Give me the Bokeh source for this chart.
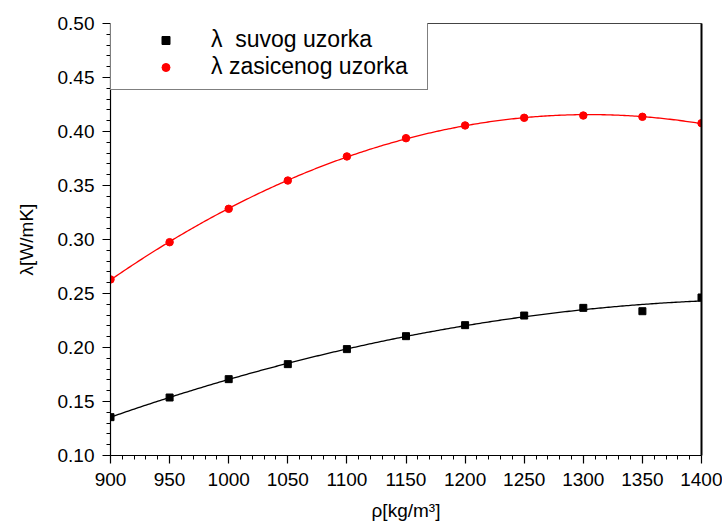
import numpy as np
from bokeh.plotting import figure
from bokeh.models import (Range1d, FixedTicker, NumeralTickFormatter, Legend,
                          LegendItem, LinearAxis)
from bokeh.embed import file_html
from bokeh.resources import INLINE

# ---- data ----
density = [900, 950, 1000, 1050, 1100, 1150, 1200, 1250, 1300, 1350, 1400]
lambda_dry = [0.1355, 0.1537, 0.1707, 0.1846, 0.1985, 0.2105, 0.2207,
              0.2296, 0.2367, 0.2336, 0.2463]
lambda_sat = [0.2630, 0.2975, 0.3284, 0.3546, 0.3769, 0.3938, 0.4056,
              0.4127, 0.4148, 0.4136, 0.4077]
x_ticks = [900, 950, 1000, 1050, 1100, 1150, 1200, 1250, 1300, 1350, 1400]
y_ticks = [0.10, 0.15, 0.20, 0.25, 0.30, 0.35, 0.40, 0.45, 0.50]
label_dry = "λ  suvog uzorka"
label_sat = "λ zasicenog uzorka"
x_title = "ρ[kg/m³]"
y_title = "λ[W/mK]"

FONT = "Liberation Sans"

p = figure(width=722, height=524, output_backend="svg", toolbar_location=None,
           x_range=Range1d(900, 1400), y_range=Range1d(0.10, 0.50),
           min_border_left=110, min_border_right=21, min_border_top=23,
           min_border_bottom=69, background_fill_color="white",
           border_fill_color="white")
p.xgrid.visible = False
p.ygrid.visible = False
p.outline_line_color = "#444444"
p.outline_line_width = 1

# polynomial (2nd order) fits of the read data, as in the original
xs = np.linspace(min(density), max(density), 300)
fit_dry = np.polyval(np.polyfit(density, lambda_dry, 2), xs)
fit_sat = np.polyval(np.polyfit(density, lambda_sat, 2), xs)

p.line(xs, fit_dry, line_color="black", line_width=1.3)
p.line(xs, fit_sat, line_color="#ff0000", line_width=1.3)
r_dry = p.scatter(density, lambda_dry, marker="square", size=7,
                  fill_color="black", line_color="black")
r_sat = p.scatter(density, lambda_sat, marker="circle", size=7.5,
                  fill_color="#ff0000", line_color="#ff0000")

minor_x = [v for v in range(900, 1401, 10) if v % 50 != 0]
minor_y = [round(0.10 + 0.01 * i, 2) for i in range(41)]
p.xaxis.ticker = FixedTicker(ticks=x_ticks, minor_ticks=minor_x)
p.yaxis.ticker = FixedTicker(ticks=y_ticks, minor_ticks=minor_y)
p.yaxis.formatter = NumeralTickFormatter(format="0.00")

for ax in (p.xaxis, p.yaxis):
    ax.axis_line_color = "black"
    ax.axis_line_width = 1.2
    ax.major_tick_line_color = "black"
    ax.minor_tick_line_color = "black"
    ax.major_tick_line_width = 1.2
    ax.minor_tick_line_width = 1
    ax.major_tick_in = 0
    ax.major_tick_out = 8
    ax.minor_tick_in = 0
    ax.minor_tick_out = 4
    ax.major_label_text_font = FONT
    ax.major_label_text_font_size = "19px"
    ax.major_label_text_color = "black"
    ax.axis_label_text_font = FONT
    ax.axis_label_text_font_size = "19px"
    ax.axis_label_text_font_style = "normal"
    ax.axis_label_text_color = "black"

p.xaxis.axis_label = x_title
p.yaxis.axis_label = y_title
p.xaxis.major_label_standoff = 9
p.xaxis.axis_label_standoff = 11
p.yaxis.major_label_standoff = 8
p.yaxis.axis_label_standoff = 18

right_axis = LinearAxis(ticker=FixedTicker(ticks=[]), axis_line_width=2,
                        axis_line_color="black", major_tick_line_color=None,
                        minor_tick_line_color=None,
                        major_label_text_font_size="0px")
p.add_layout(right_axis, "right")

legend = Legend(items=[LegendItem(label=label_dry, renderers=[r_dry]),
                       LegendItem(label=label_sat, renderers=[r_sat])],
                location=(0, 365), padding=9, spacing=-2, margin=0,
                glyph_width=91, glyph_height=20, label_standoff=0,
                label_width=207, label_height=22,
                label_text_font=FONT, label_text_font_size="23px",
                label_text_color="black",
                border_line_color="black", border_line_width=1,
                background_fill_color="white", background_fill_alpha=1)
p.add_layout(legend, "center")

open("out.html", "w").write(file_html(p, INLINE))
